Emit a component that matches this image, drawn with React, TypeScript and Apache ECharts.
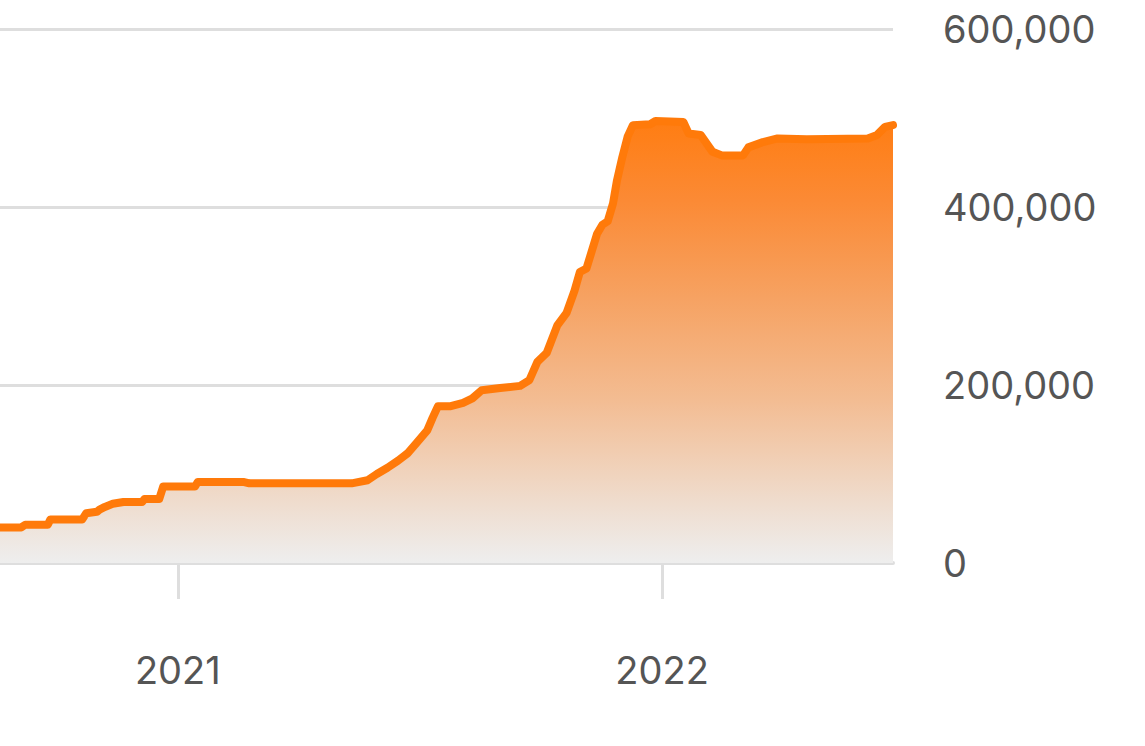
import React, { useEffect, useRef } from "react";
import * as echarts from "echarts";

const dates: string[] = [
  "2020-08-14", "2020-09-05", "2020-09-08", "2020-09-25", "2020-09-27", "2020-10-21", "2020-10-24",
  "2020-11-01", "2020-11-03", "2020-11-07", "2020-11-13", "2020-11-21", "2020-12-05", "2020-12-07",
  "2020-12-18", "2020-12-21", "2021-01-14", "2021-01-16", "2021-02-20", "2021-02-24", "2021-05-12",
  "2021-05-24", "2021-05-31", "2021-06-08", "2021-06-16", "2021-06-23", "2021-06-30", "2021-07-08",
  "2021-07-12", "2021-07-16", "2021-07-25", "2021-08-04", "2021-08-11", "2021-08-18", "2021-09-01",
  "2021-09-16", "2021-09-23", "2021-09-29", "2021-10-06", "2021-10-14", "2021-10-21", "2021-10-27",
  "2021-10-31", "2021-11-05", "2021-11-13", "2021-11-17", "2021-11-21", "2021-11-25", "2021-11-28",
  "2021-12-02", "2021-12-06", "2021-12-10", "2021-12-23", "2021-12-27", "2022-01-17", "2022-01-21",
  "2022-01-30", "2022-02-08", "2022-02-15", "2022-03-03", "2022-03-07", "2022-03-18", "2022-03-29",
  "2022-04-20", "2022-06-05", "2022-06-12", "2022-06-18", "2022-06-24",
];

const values: number[] = [
  40000, 40000, 43000, 43000, 49000, 49000, 56000,
  57500, 60000, 63000, 66500, 68500, 68500, 72000,
  72000, 86000, 86000, 91000, 91000, 89500, 89500,
  93000, 100000, 107000, 115000, 123000, 135000, 149000,
  163000, 176000, 176000, 180000, 185000, 194000, 196600,
  199000, 205600, 226000, 236000, 267000, 281000, 306000,
  327000, 331000, 370000, 380000, 384000, 404000, 430000,
  456000, 479000, 492000, 493000, 496600, 495500, 482600,
  481000, 462000, 458000, 458000, 467000, 473000, 477000,
  476000, 477000, 481000, 490000, 492000,
];

const yearTicks: string[] = ["2021-01-01", "2022-01-01"];
const xMin = "2020-08-20";
const xMax = "2022-06-24";
const yTicks: number[] = [0, 200000, 400000, 600000];

const toTs = (s: string) => Date.UTC(+s.slice(0, 4), +s.slice(5, 7) - 1, +s.slice(8, 10));

export default function App() {
  const ref = useRef<HTMLDivElement>(null);
  useEffect(() => {
    if (!ref.current) return;
    const chart = echarts.init(ref.current, null, { renderer: "svg" });
    const font = "Inter, 'Liberation Sans', sans-serif";
    chart.setOption({
      animation: false,
      grid: { left: 0, right: 252, top: 29, bottom: 183, containLabel: false },
      xAxis: {
        type: "value",
        min: toTs(xMin),
        max: toTs(xMax),
        splitLine: { show: false },
        axisLine: { show: true, lineStyle: { color: "#dedede", width: 4 } },
        axisTick: {
          show: true,
          customValues: yearTicks.map(toTs),
          length: 36,
          lineStyle: { color: "#dedede", width: 3 },
        },
        axisLabel: {
          customValues: yearTicks.map(toTs),
          formatter: (v: number) => String(new Date(v).getUTCFullYear()),
          fontSize: 38,
          fontFamily: font,
          color: "#555555",
          margin: 88,
        },
      },
      yAxis: {
        type: "value",
        position: "right",
        min: yTicks[0],
        max: yTicks[yTicks.length - 1],
        interval: 200000,
        axisLine: { show: false },
        axisTick: { show: false },
        splitLine: { show: true, lineStyle: { color: "#dedede", width: 3 } },
        axisLabel: {
          formatter: (v: number) => v.toLocaleString("en-US"),
          fontSize: 38,
          fontFamily: font,
          color: "#555555",
          margin: 50,
          align: "left",
          padding: [7, 0, 0, 0],
        },
      },
      series: [
        {
          type: "line",
          data: dates.map((d, i) => [toTs(d), values[i]]),
          showSymbol: false,
          lineStyle: { color: "#FF7A0A", width: 8, cap: "round", join: "round" },
          itemStyle: { color: "#FF7A0A" },
          areaStyle: {
            color: new echarts.graphic.LinearGradient(0, 0, 0, 1, [
              { offset: 0, color: "#ff7d12" },
              { offset: 0.18, color: "#fb8a35" },
              { offset: 0.4, color: "#f6a262" },
              { offset: 0.63, color: "#f3bc92" },
              { offset: 0.86, color: "#efdccd" },
              { offset: 1, color: "#eeeeee" },
            ]),
            opacity: 1,
          },
        },
      ],
    });
    return () => chart.dispose();
  }, []);
  return (
    <div
      ref={ref}
      style={{ position: "fixed", left: 0, top: 0, width: 1145, height: 746, background: "#ffffff" }}
    />
  );
}
